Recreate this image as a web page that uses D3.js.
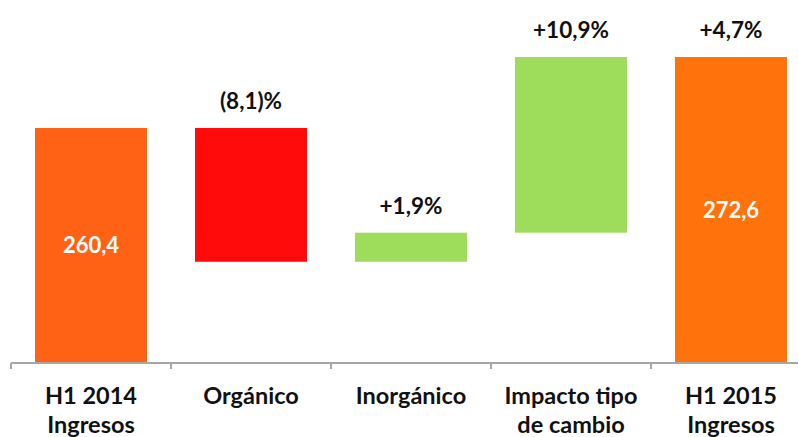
<!DOCTYPE html>
<html>
<head>
<meta charset="utf-8">
<script src="https://cdn.jsdelivr.net/npm/d3@7"></script>
<style>
  body { margin: 0; background: #fff; }
  svg { display: block; font-family: Lato, "Open Sans", sans-serif; }
</style>
</head>
<body>
<div id="chart"></div>
<script>
// Waterfall data (H1 2014 -> H1 2015 revenue)
const categories = ["H1 2014\nIngresos", "Orgánico", "Inorgánico", "Impacto tipo\nde cambio", "H1 2015\nIngresos"];
const kinds = ["total", "delta", "delta", "delta", "total"];
const values = [260.4, -23.0, 5.0, 30.2, 272.6];
const pctLabels = ["", "(8,1)%", "+1,9%", "+10,9%", "+4,7%"];
const totalLabels = ["260,4", "", "", "", "272,6"];
const axisBase = 220;

const W = 798, H = 437;
const colors = { first: "#FF6214", down: "#FF0B0B", up: "#9EDC5C", last: "#FF720C" };

const svg = d3.select("#chart").append("svg")
    .attr("width", W)
    .attr("height", H);

// build running start/end for each step
let running = 0;
const rows = categories.map((c, i) => {
    let y0, y1;
    if (kinds[i] === "total") {
        y0 = axisBase; y1 = values[i]; running = values[i];
    } else {
        y0 = running; y1 = running + values[i]; running = y1;
    }
    let color = values[i] < 0 ? colors.down : colors.up;
    if (kinds[i] === "total") color = i === 0 ? colors.first : colors.last;
    return { cat: c, y0, y1, color, pct: pctLabels[i], total: totalLabels[i] };
});

const x = d3.scaleBand()
    .domain(categories)
    .range([11, 811])
    .paddingInner(0.3)
    .paddingOuter(0.15);

const y = d3.scaleLinear()
    .domain([axisBase, 282.4])
    .range([363, 0]);

// bars
svg.selectAll(".bar")
    .data(rows)
    .enter().append("rect")
    .attr("class", "bar")
    .attr("x", d => x(d.cat))
    .attr("width", x.bandwidth())
    .attr("y", d => y(Math.max(d.y0, d.y1)))
    .attr("height", d => Math.abs(y(d.y0) - y(d.y1)))
    .style("fill", d => d.color);

// axis line with ticks on band boundaries
const step = x.step();
const edges = categories.map(c => x(c) - step * 0.15);
const axisG = svg.append("g");
axisG.append("line")
    .attr("x1", edges[0]).attr("x2", W)
    .attr("y1", y(axisBase)).attr("y2", y(axisBase))
    .attr("stroke", "#A6A6A6").attr("stroke-width", 2);
axisG.selectAll(".tick")
    .data(edges)
    .enter().append("line")
    .attr("x1", d => d).attr("x2", d => d)
    .attr("y1", y(axisBase)).attr("y2", y(axisBase) + 6)
    .attr("stroke", "#A6A6A6").attr("stroke-width", 2);

// category labels (two lines)
const catText = svg.selectAll(".cat")
    .data(categories)
    .enter().append("text")
    .attr("class", "cat")
    .attr("text-anchor", "middle")
    .attr("font-size", 23.5)
    .attr("font-weight", "bold")
    .attr("fill", "#111");
catText.selectAll("tspan")
    .data(d => d.split("\n").map(t => ({ t, c: d })))
    .enter().append("tspan")
    .attr("x", d => x(d.c) + x.bandwidth() / 2)
    .attr("y", (d, i) => 404 + i * 29)
    .text(d => d.t);

// percentage labels above bars
svg.selectAll(".pct")
    .data(rows.filter(d => d.pct))
    .enter().append("text")
    .attr("class", "pct")
    .attr("text-anchor", "middle")
    .attr("font-size", 22.5)
    .attr("font-weight", "bold")
    .attr("fill", "#111")
    .attr("x", d => x(d.cat) + x.bandwidth() / 2)
    .attr("y", d => y(Math.max(d.y0, d.y1)) - 19)
    .text(d => d.pct);

// value labels inside total bars
svg.selectAll(".tot")
    .data(rows.filter(d => d.total))
    .enter().append("text")
    .attr("class", "tot")
    .attr("text-anchor", "middle")
    .attr("font-size", 22)
    .attr("font-weight", "bold")
    .attr("fill", "#fff")
    .attr("x", d => x(d.cat) + x.bandwidth() / 2)
    .attr("y", d => (y(d.y0) + y(d.y1)) / 2 + 8)
    .text(d => d.total);
</script>
</body>
</html>
